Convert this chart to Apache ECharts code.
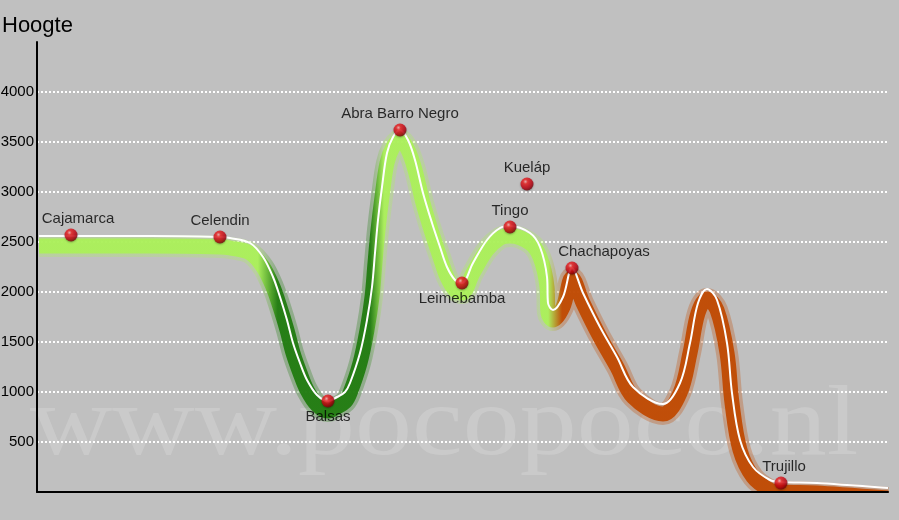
<!DOCTYPE html>
<html><head><meta charset="utf-8">
<script src="https://cdn.jsdelivr.net/npm/echarts@6/dist/echarts.min.js"></script>
<style>html,body{margin:0;padding:0;background:#c0c0c0}#c{width:899px;height:520px}</style>
</head><body><div id="c"></div>
<script>
// Route profile (distance units along route, elevation m)
const routeX = [2,34,113,183,193,213,226,236,243,250,256,263,270,280,291,300,308,313,323,330,335,338,341,345,350,356,363,371,378,386,395,403,410,418,425,436,450,463,473,493,503,510,511,516,526,535,546,563,580,596,626,643,653,661,670,680,690,695,703,716,733,744,780,851];
const routeElev = [2560,2560,2560,2550,2540,2490,2350,2150,1950,1720,1490,1290,1120,970,910,950,1000,1090,1390,1720,2050,2390,2720,3050,3390,3550,3620,3520,3320,2990,2690,2450,2250,2120,2090,2290,2520,2640,2660,2590,2450,2150,1890,1820,1950,2240,1990,1650,1350,1050,880,1090,1490,1890,2030,1920,1490,990,520,250,120,100,90,40];
// Named places
const placeNames = ['Cajamarca','Celendin','Balsas','Abra Barro Negro','Leimebamba','Tingo','Kueláp','Chachapoyas','Trujillo'];
const placeX = [34,183,291,363,425,473,490,535,744];
const placeElev = [2570,2550,910,3620,2090,2650,3080,2240,90];
const labelBelow = ['Balsas','Leimebamba'];
const labelShift = {Cajamarca:7, Chachapoyas:32, Trujillo:3};

const chart = echarts.init(document.getElementById('c'));
const route = routeX.map((x,i)=>[x,routeElev[i]]);
const LIGHT='#abf05a', DARK='#217c10', ORANGE='#c04a02';
const bandGrad = () => new echarts.graphic.LinearGradient(0,0,1,0,[
  {offset:0,color:LIGHT},{offset:0.262,color:LIGHT},{offset:0.285,color:DARK},
  {offset:0.392,color:DARK},{offset:0.408,color:LIGHT},{offset:0.598,color:LIGHT},
  {offset:0.614,color:ORANGE},{offset:1,color:ORANGE}]);
const ball = new echarts.graphic.RadialGradient(0.38,0.32,0.7,[
  {offset:0,color:'#ffb0b0'},{offset:0.25,color:'#f02020'},{offset:0.7,color:'#c00010'},{offset:1,color:'#700008'}]);

const places = placeNames.map((n,i)=>({
  name:n, value:[placeX[i],placeElev[i]],
  label:{position: labelBelow.includes(n)?'bottom':'top', offset:[labelShift[n]||0,0]}
}));
const FONT='Liberation Sans, Arial, sans-serif';

chart.setOption({
  backgroundColor:'#c0c0c0',
  animation:false,
  title:{text:'Hoogte', left:2, top:15, padding:0, textStyle:{fontFamily:FONT, fontSize:22, fontWeight:'normal', color:'#000'}},
  graphic:[
    {type:'text', z:-10, silent:true, x:30, y:378, scaleX:1.14, style:{text:'www.pocopoco.nl', verticalAlign:'top',
      font:'100px "Liberation Serif", "Times New Roman", serif', fill:'rgba(255,255,255,0.17)'}},
    {type:'rect', z:50, silent:true, shape:{x:0,y:493,width:899,height:27}, style:{fill:'#c0c0c0'}}
  ],
  grid:[{left:37,right:11,top:42,bottom:28,outerBoundsMode:'none'}],
  xAxis:[
    {type:'value',gridIndex:0,min:0,max:851,axisLine:{show:true,lineStyle:{color:'#000',width:2}},axisTick:{show:false},axisLabel:{show:false},splitLine:{show:false},z:60}
  ],
  yAxis:[
    {type:'value',gridIndex:0,min:0,max:4500,interval:500,
     axisLine:{show:true,lineStyle:{color:'#000',width:2}},axisTick:{show:false},
     axisLabel:{margin:3,fontFamily:FONT,fontSize:15,color:'#000',
       formatter:v=>(v===0||v===4500)?'':String(v)},
     splitLine:{show:true,showMinLine:false,showMaxLine:false,lineStyle:{color:'#ffffff',width:2,type:[2,2]}}},
    // same scale shifted 100 m (10 px) lower, to draw the soft band just below the outline
    {type:'value',gridIndex:0,min:100,max:4600,show:false}
  ],
  series:[
    {type:'line',yAxisIndex:1,data:route,smooth:0.35,showSymbol:false,silent:true,clip:false,
     lineStyle:{color:bandGrad(),width:22,opacity:0.3,cap:'butt',join:'round'},z:1},
    {type:'line',yAxisIndex:1,data:route,smooth:0.35,showSymbol:false,silent:true,clip:false,
     lineStyle:{color:bandGrad(),width:15,opacity:0.95,cap:'butt',join:'round'},z:2},
    {type:'line',yAxisIndex:0,data:route,smooth:0.35,showSymbol:false,silent:true,
     lineStyle:{color:'#ffffff',width:2},z:3},
    {type:'scatter',yAxisIndex:0,data:places,symbol:'circle',symbolSize:13,z:6,
     itemStyle:{color:ball,shadowBlur:2,shadowColor:'rgba(0,0,0,0.35)',shadowOffsetY:1},
     label:{show:true,formatter:p=>p.name,distance:2,fontFamily:FONT,fontSize:15,color:'#000'}}
  ]
});
</script></body></html>
